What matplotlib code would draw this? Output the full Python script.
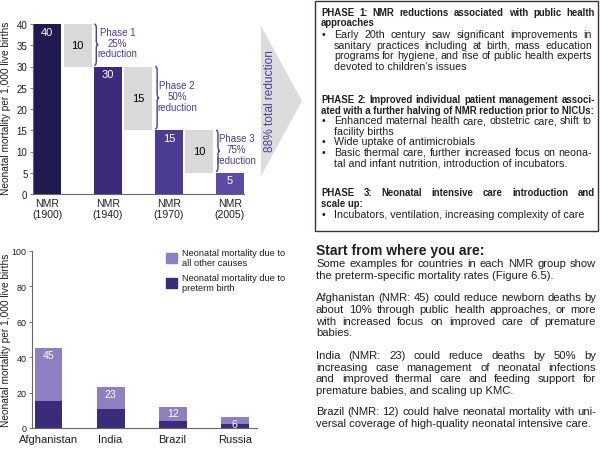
import matplotlib.pyplot as plt
from matplotlib.patches import Polygon, Rectangle, Patch, PathPatch
from matplotlib.path import Path

plt.rcParams['font.family'] = ['Liberation Sans', 'DejaVu Sans']

# --- data ---
years = ['1900', '1940', '1970', '2005']
nmr = [40, 30, 15, 5]
drops = [10, 15, 10]
phase_pct = [25, 50, 75]
total_pct = 88

countries = ['Afghanistan', 'India', 'Brazil', 'Russia']
country_nmr = [45, 23, 12, 6]
preterm = [15, 11, 4, 2]

# colours
bar_cols = ['#1f1a4f', '#3b2b7a', '#4b3b92', '#5d4ca6']
GRAY = '#d9d9d9'
PURPLE = '#4e3d99'
TXT = '#231f20'
LIGHT = '#8e7fc0'
DARK = '#3b2c7a'

W, H = 600, 452
fig = plt.figure(figsize=(W / 100, H / 100), dpi=100)


def px_rect(x0, y0, x1, y1):
    return [x0 / W, 1 - y1 / H, (x1 - x0) / W, (y1 - y0) / H]


# overlay in pixel units for the text panels and the arrow
ov = fig.add_axes([0, 0, 1, 1])
ov.set_xlim(0, W)
ov.set_ylim(H, 0)
ov.axis('off')
renderer = fig.canvas.get_renderer()


def text_width(s, **kw):
    t = ov.text(0, 0, s, **kw)
    w = t.get_window_extent(renderer).width
    t.remove()
    return w


def fit_size(lines, width, **kw):
    # font size at which the widest of these (unstretched) lines fills the width
    return min(10 * width / text_width(s, fontsize=10, **kw) for s in lines)


def text_line(x, y, s, width=None, **kw):
    if width is None:
        ov.text(x, y, s, va='center', ha='left', **kw)
        return
    words = s.split()
    items = [ov.text(x, y, w, va='center', ha='left', **kw) for w in words]
    widths = [t.get_window_extent(renderer).width for t in items]
    gap = (width - sum(widths)) / max(len(words) - 1, 1)
    cx = x
    for t, w in zip(items, widths):
        t.set_x(cx)
        cx += w + gap


def paragraph(x, y0, lines, width, step, **kw):
    for i, s in enumerate(lines):
        last = i == len(lines) - 1
        text_line(x, y0 + i * step, s, None if last else width, **kw)


def brace(ax, x, y0, y1, w=0.13, d=0.9, color=PURPLE):
    ym = (y0 + y1) / 2
    xm = x + w / 2
    verts = [(x, y1), (xm, y1), (xm, y1 - d), (xm, ym + d), (xm, ym), (x + w, ym),
             (xm, ym), (xm, ym - d), (xm, y0 + d), (xm, y0), (x, y0)]
    codes = [Path.MOVETO, Path.CURVE3, Path.CURVE3, Path.LINETO, Path.CURVE3, Path.CURVE3,
             Path.CURVE3, Path.CURVE3, Path.LINETO, Path.CURVE3, Path.CURVE3]
    ax.add_patch(PathPatch(Path(verts, codes), fill=False, ec=color, lw=1.0, clip_on=False))


def style_axes(ax, fs):
    for s in ['top', 'right']:
        ax.spines[s].set_visible(False)
    for s in ['left', 'bottom']:
        ax.spines[s].set_color('#666666')
        ax.spines[s].set_linewidth(0.8)
    ax.tick_params(axis='y', direction='out', length=2.5, width=0.6, color='#666666',
                   labelsize=fs, labelcolor=TXT, pad=1.5)
    ax.set_facecolor('none')


# --- top chart: NMR decline ---
ax1 = fig.add_axes(px_rect(33, 25, 244, 195))
bar_x = [2 * i for i in range(len(nmr))]
gap_x = [2 * i + 1 for i in range(len(drops))]
ax1.bar(bar_x, nmr, width=0.92, color=bar_cols)
ax1.bar(gap_x, drops, bottom=nmr[1:], width=0.92, color=GRAY)
for x, v in zip(bar_x, nmr):
    ax1.annotate(str(v), (x, v), xytext=(0, -5.5), textcoords='offset points',
                 ha='center', va='center', color='white', fontsize=8)
for x, b, v in zip(gap_x, nmr[1:], drops):
    ax1.text(x, b + v / 2, str(v), ha='center', va='center', color='black', fontsize=8)
for i, (x, b, v) in enumerate(zip(gap_x, nmr[1:], drops)):
    brace(ax1, x + 0.55, b + 0.3, b + v)
    ax1.text(x + 1.32 - 0.05 * i, b + v / 2 + 0.6, f'Phase {i + 1}\n{phase_pct[i]}%\nreduction',
             ha='center', va='center', color=PURPLE, fontsize=7, linespacing=1.1,
             clip_on=False)
ax1.set_xlim(-0.465, 6.47)
ax1.set_ylim(0, 40)
ax1.set_yticks(range(0, 41, 5))
ax1.set_xticks(bar_x)
ax1.set_xticklabels([f'NMR\n({y})' for y in years], fontsize=7.6, color=TXT, linespacing=1.05)
ax1.tick_params(axis='x', length=0, pad=3)
style_axes(ax1, 7)
ax1.set_ylabel('Neonatal mortality per 1,000 live births', fontsize=7.3, color=TXT)
ax1.yaxis.set_label_coords(-0.104, 0.51)

# arrow with total reduction
ov.add_patch(Polygon([(261, 27), (302, 102), (261, 177)], closed=True, color='#dcdcdc', lw=0))
ov.text(270, 101, f'{total_pct}% total reduction', rotation=90, ha='center', va='center',
        color=PURPLE, fontsize=8.6)

# --- bottom chart: countries ---
ax2 = fig.add_axes(px_rect(32, 252, 257, 429))
cx = list(range(len(countries)))
others = [t - p for t, p in zip(country_nmr, preterm)]
ax2.bar(cx, preterm, width=0.45, color=DARK)
ax2.bar(cx, others, bottom=preterm, width=0.45, color=LIGHT)
for x, v in zip(cx, country_nmr):
    ax2.annotate(str(v), (x, v), xytext=(0, -4.5), textcoords='offset points',
                 ha='center', va='center', color='white', fontsize=7.6)
ax2.set_xlim(-0.266, 3.36)
ax2.set_ylim(0, 100)
ax2.set_yticks(range(0, 101, 20))
ax2.set_xticks(cx)
ax2.set_xticklabels(countries, fontsize=8, color=TXT)
ax2.tick_params(axis='x', length=0, pad=4)
style_axes(ax2, 6.4)
ax2.set_ylabel('Neonatal mortality per 1,000 live births', fontsize=7.3, color=TXT)
ax2.yaxis.set_label_coords(-0.093, 0.5)
ax2.legend(handles=[Patch(color=LIGHT, label='Neonatal mortality due to\nall other causes'),
                    Patch(color=DARK, label='Neonatal mortality due to\npreterm birth')],
           loc='upper left', bbox_to_anchor=(166, 249), bbox_transform=ov.transData,
           frameon=False, fontsize=6.7, handlelength=1.2, handleheight=1.2,
           handletextpad=0.5, labelspacing=0.6, borderpad=0, borderaxespad=0,
           labelcolor=TXT)

# --- phase text box ---
ov.add_patch(Rectangle((315, 2), 283, 230, fill=False, ec='#3d3030', lw=1.0))
HX, HW = 321, 274
BX, TX, TW = 323.5, 334, 258
STEP = 10.6
hs = fit_size(['ated with a further halving of NMR reduction prior to NICUs:',
               'PHASE 2: Improved individual patient management associ-'], HW, fontweight='bold')
rs = fit_size(['programs for hygiene, and rise of public health experts',
               'Enhanced maternal health care, obstetric care, shift to'], TW)
bold = dict(fontsize=hs, fontweight='bold', color=TXT)
reg = dict(fontsize=rs, color=TXT)

paragraph(HX, 12.5, ['PHASE 1: NMR reductions associated with public health', 'approaches'],
          HW, STEP, **bold)
bullets1 = [(35, ['Early 20th century saw significant improvements in',
                  'sanitary practices including at birth, mass education',
                  'programs for hygiene, and rise of public health experts',
                  'devoted to children\u2019s issues'])]
paragraph(HX, 100, ['PHASE 2: Improved individual patient management associ-',
                    'ated with a further halving of NMR reduction prior to NICUs:'],
          HW, STEP, **bold)
bullets2 = [(121.5, ['Enhanced maternal health care, obstetric care, shift to', 'facility births']),
            (142.5, ['Wide uptake of antimicrobials']),
            (153, ['Basic thermal care, further increased focus on neona-',
                   'tal and infant nutrition, introduction of incubators.'])]
paragraph(HX, 193.5, ['PHASE 3: Neonatal intensive care introduction and', 'scale up:'],
          HW, STEP, **bold)
bullets3 = [(215, ['Incubators, ventilation, increasing complexity of care'])]
for y0, lines in bullets1 + bullets2 + bullets3:
    ov.text(BX, y0, '\u2022', ha='center', va='center', **reg)
    paragraph(TX, y0, lines, TW, STEP, **reg)

# --- right text ---
RX, RW = 316, 280
RSTEP = 11.6
ov.text(RX, 251, 'Start from where you are:', ha='left', va='center', fontsize=10,
        fontweight='bold', color=TXT)
bs = fit_size(['Afghanistan (NMR: 45) could reduce newborn deaths by',
               'Brazil (NMR: 12) could halve neonatal mortality with uni-',
               'Some examples for countries in each NMR group show'], RW)
body = dict(fontsize=bs, color=TXT)
paragraph(RX, 264.5, ['Some examples for countries in each NMR group show',
                      'the preterm-specific mortality rates (Figure 6.5).'], RW, RSTEP, **body)
paragraph(RX, 298.5, ['Afghanistan (NMR: 45) could reduce newborn deaths by',
                      'about 10% through public health approaches, or more',
                      'with increased focus on improved care of premature',
                      'babies.'], RW, RSTEP, **body)
paragraph(RX, 356, ['India (NMR: 23) could reduce deaths by 50% by',
                    'increasing case management of neonatal infections',
                    'and improved thermal care and feeding support for',
                    'premature babies, and scaling up KMC.'], RW, RSTEP, **body)
paragraph(RX, 412, ['Brazil (NMR: 12) could halve neonatal mortality with uni-',
                    'versal coverage of high-quality neonatal intensive care.'], RW, RSTEP, **body)

fig.savefig('out.png', dpi=100)
